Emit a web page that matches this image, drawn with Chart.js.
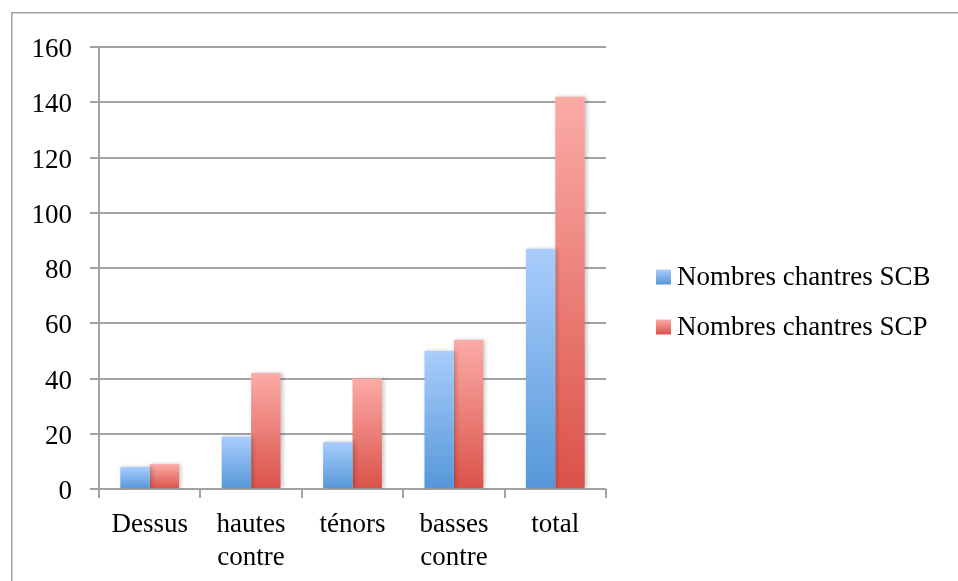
<!DOCTYPE html>
<html><head><meta charset="utf-8">
<script src="https://cdn.jsdelivr.net/npm/chart.js@4/dist/chart.umd.min.js"></script>
<style>html,body{margin:0;padding:0;background:#fff;}#wrap{position:relative;width:958px;height:581px;}</style>
</head><body><div id="wrap"><canvas id="c" width="958" height="581"></canvas></div>
<script>
const categories = [['Dessus'], ['hautes', 'contre'], ['ténors'], ['basses', 'contre'], ['total']];
const seriesNames = ['Nombres chantres SCB', 'Nombres chantres SCP'];
const scbValues = [8, 19, 17, 50, 87];
const scpValues = [9, 42, 40, 54, 142];
const yMin = 0, yMax = 160, yStep = 20;

const FONT = '"Liberation Serif", "Times New Roman", serif';
const blueTop = '#aacdfc', blueBot = '#5597d9';
const redTop = '#fcaba7', redBot = '#da5249';

function grad(top, bot) {
  return (ctx) => {
    const chart = ctx.chart;
    if (!chart.chartArea || ctx.type !== 'data' || !chart.scales.y) return bot;
    const ys = chart.scales.y;
    const y0 = ys.getPixelForValue(ctx.raw);
    const y1 = ys.getPixelForValue(0);
    const g = chart.ctx.createLinearGradient(0, y0, 0, y1);
    g.addColorStop(0, top); g.addColorStop(1, bot);
    return g;
  };
}

const framePlugin = {
  id: 'frame',
  beforeDraw(chart) {
    const c = chart.ctx;
    c.save();
    c.strokeStyle = '#a3a3a3'; c.lineWidth = 1.5;
    c.beginPath(); c.moveTo(11.75, 581); c.lineTo(11.75, 12.75); c.lineTo(958, 12.75); c.stroke();
    c.restore();
  }
};
const shadowPlugin = {
  id: 'barShadow',
  beforeDatasetsDraw(chart) {
    const c = chart.ctx; c.save();
    c.shadowColor = 'rgba(0,0,0,0.22)'; c.shadowBlur = 4; c.shadowOffsetX = 2; c.shadowOffsetY = 0;
  },
  afterDatasetsDraw(chart) { chart.ctx.restore(); }
};
const legendPlugin = {
  id: 'sideLegend',
  afterDraw(chart) {
    const c = chart.ctx, ca = chart.chartArea;
    const cols = [[blueTop, blueBot], [redTop, redBot]];
    const bx = ca.right + 50;
    const cy = (ca.top + ca.bottom) / 2 + 34;
    c.save();
    c.font = '27px ' + FONT;
    c.textBaseline = 'middle'; c.textAlign = 'left'; c.fillStyle = '#000';
    chart.data.datasets.forEach((ds, i) => {
      const y = cy + (i - 0.5) * 50;
      const g = c.createLinearGradient(0, y - 7.5, 0, y + 7.5);
      g.addColorStop(0, cols[i][0]); g.addColorStop(1, cols[i][1]);
      c.fillStyle = g; c.fillRect(bx, y - 7.5, 15, 15);
      c.fillStyle = '#000';
      c.fillText(ds.label, bx + 21, y + 1);
    });
    c.restore();
  }
};

new Chart(document.getElementById('c'), {
  type: 'bar',
  data: {
    labels: categories,
    datasets: [
      { label: seriesNames[0], data: scbValues, backgroundColor: grad(blueTop, blueBot), borderWidth: 0 },
      { label: seriesNames[1], data: scpValues, backgroundColor: grad(redTop, redBot), borderWidth: 0 }
    ]
  },
  options: {
    responsive: false, animation: false,
    layout: { padding: { top: 47, left: 0, right: 352, bottom: 0 } },
    datasets: { bar: { categoryPercentage: 0.58, barPercentage: 1.0 } },
    plugins: { legend: { display: false }, tooltip: { enabled: false } },
    scales: {
      x: {
        grid: { offset: true, drawOnChartArea: false, drawTicks: true, tickLength: 9, color: '#a3a3a3', lineWidth: 2 },
        border: { display: false },
        ticks: { color: '#000', padding: 10, font: { family: FONT, size: 27, lineHeight: 1.22 }, maxRotation: 0, autoSkip: false },
        afterFit: (s) => { s.height = 92; }
      },
      y: {
        min: yMin, max: yMax,
        grid: { color: '#a3a3a3', lineWidth: 2, tickLength: 9 },
        border: { display: true, color: '#a3a3a3', width: 2 },
        ticks: { stepSize: yStep, color: '#000', padding: 18, labelOffset: 3, font: { family: FONT, size: 27 } },
        afterFit: (s) => { s.width = 99; }
      }
    }
  },
  plugins: [framePlugin, shadowPlugin, legendPlugin]
});
</script></body></html>
